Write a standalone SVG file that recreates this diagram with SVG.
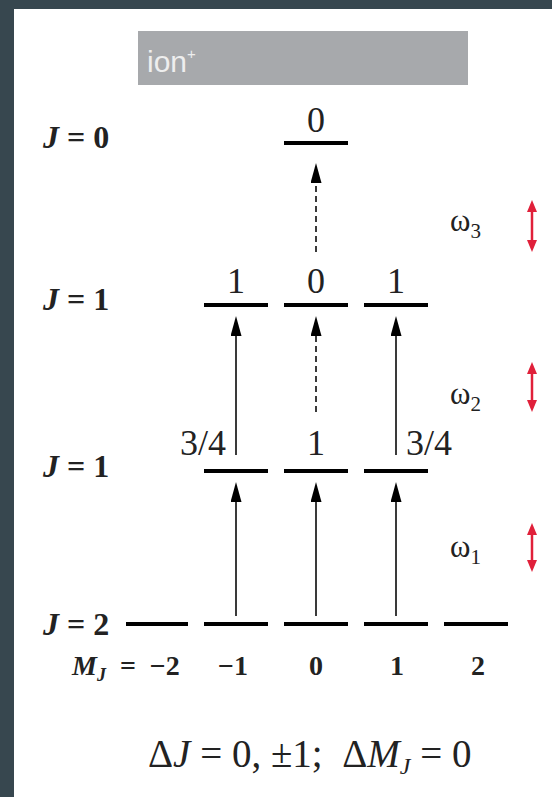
<svg xmlns="http://www.w3.org/2000/svg" width="552" height="797" viewBox="0 0 552 797">
<defs>
<style>
.lvl{stroke:#000;stroke-width:4;stroke-linecap:butt;fill:none}
.num{font-family:"Liberation Serif","Times New Roman",serif;font-size:36px;fill:#222}
.mid{text-anchor:middle}
.end{text-anchor:end}
.jl{font-family:"Liberation Serif","Times New Roman",serif;font-size:32px;font-weight:bold;fill:#222}
.mj{font-family:"Liberation Serif","Times New Roman",serif;font-size:28px;font-weight:bold;fill:#222}
.om{font-family:"Liberation Serif","Times New Roman",serif;font-size:31px;fill:#222}
.eq{font-family:"Liberation Serif","Times New Roman",serif;font-size:39px;fill:#222}
.arr{stroke:#3a3a3a;stroke-width:2;fill:none;marker-end:url(#ah)}
.dash{stroke-dasharray:6 4}
.red{stroke:#e0203a;stroke-width:2.5;fill:none;marker-start:url(#rh);marker-end:url(#rh)}
</style>
<marker id="ah" markerUnits="userSpaceOnUse" markerWidth="20" markerHeight="11" refX="0" refY="5.5" orient="auto" viewBox="0 0 20 11">
<path d="M0,0 L20,5.5 L0,11 z" fill="#000"/>
</marker>
<marker id="rh" markerUnits="userSpaceOnUse" markerWidth="12" markerHeight="10" refX="0" refY="5" orient="auto-start-reverse" viewBox="0 0 12 10">
<path d="M0,0 L12,5 L0,10 z" fill="#e0203a"/>
</marker>
</defs>
<rect x="0" y="0" width="552" height="797" fill="#37474f"/>
<rect x="14" y="9" width="538" height="788" fill="#ffffff"/>

<g id="ion-header">
<rect x="138" y="31" width="330" height="54" fill="#a7a9ac"/>
<text x="147" y="72" font-family="Liberation Sans, Arial, sans-serif" font-size="30" fill="#eeeeee">ion<tspan font-size="15" dy="-13">+</tspan></text>
</g>

<g id="J0-level">
<text class="jl" x="43" y="148"><tspan font-style="italic">J</tspan> = 0</text>
<line class="lvl" x1="284" y1="143" x2="348" y2="143"/>
<text class="num mid" x="316" y="132">0</text>
</g>

<g id="J1-upper-level">
<text class="jl" x="43" y="310"><tspan font-style="italic">J</tspan> = 1</text>
<line class="lvl" x1="204" y1="305" x2="268" y2="305"/>
<line class="lvl" x1="284" y1="305" x2="348" y2="305"/>
<line class="lvl" x1="364" y1="305" x2="428" y2="305"/>
<text class="num mid" x="236" y="293">1</text>
<text class="num mid" x="316" y="293">0</text>
<text class="num mid" x="396" y="293">1</text>
</g>

<g id="J1-lower-level">
<text class="jl" x="43" y="477"><tspan font-style="italic">J</tspan> = 1</text>
<line class="lvl" x1="204" y1="471" x2="268" y2="471"/>
<line class="lvl" x1="284" y1="471" x2="348" y2="471"/>
<line class="lvl" x1="364" y1="471" x2="428" y2="471"/>
<text class="num end" x="226" y="455">3/4</text>
<text class="num mid" x="316" y="455">1</text>
<text class="num" x="406" y="455">3/4</text>
</g>

<g id="J2-level">
<text class="jl" x="43" y="635"><tspan font-style="italic">J</tspan> = 2</text>
<line class="lvl" x1="126" y1="624" x2="188" y2="624"/>
<line class="lvl" x1="204" y1="624" x2="268" y2="624"/>
<line class="lvl" x1="284" y1="624" x2="348" y2="624"/>
<line class="lvl" x1="364" y1="624" x2="428" y2="624"/>
<line class="lvl" x1="444" y1="624" x2="508" y2="624"/>
<text class="mj" x="72" y="675" xml:space="preserve"><tspan font-style="italic">M</tspan><tspan font-style="italic" font-size="18" dy="6">J</tspan><tspan dy="-6">  =  −2</tspan></text>
<text class="mj mid" x="233" y="675">−1</text>
<text class="mj mid" x="316" y="675">0</text>
<text class="mj mid" x="397" y="675">1</text>
<text class="mj mid" x="478" y="675">2</text>
</g>

<g id="connectors">
<line class="arr" x1="236" y1="616" x2="236" y2="502"/>
<line class="arr" x1="316" y1="616" x2="316" y2="502"/>
<line class="arr" x1="396" y1="616" x2="396" y2="502"/>
<line class="arr" x1="236" y1="455" x2="236" y2="336"/>
<line class="arr dash" x1="316" y1="412" x2="316" y2="336"/>
<line class="arr" x1="396" y1="455" x2="396" y2="336"/>
<line class="arr dash" x1="316" y1="252" x2="316" y2="183"/>
</g>

<g id="omega3">
<text class="om" x="450" y="231">ω<tspan font-size="21" dy="7">3</tspan></text>
<line class="red" x1="532" y1="212" x2="532" y2="240"/>
</g>
<g id="omega2">
<text class="om" x="450" y="404">ω<tspan font-size="21" dy="7">2</tspan></text>
<line class="red" x1="532" y1="374" x2="532" y2="400"/>
</g>
<g id="omega1">
<text class="om" x="450" y="557">ω<tspan font-size="21" dy="7">1</tspan></text>
<line class="red" x1="532" y1="535" x2="532" y2="560"/>
</g>

<g id="selection-rule">
<text class="eq" x="148" y="767" xml:space="preserve">Δ<tspan font-style="italic">J</tspan> = 0, ±1;  Δ<tspan font-style="italic">M</tspan><tspan font-style="italic" font-size="24" dy="7">J</tspan><tspan dy="-7"> = 0</tspan></text>
</g>
</svg>
